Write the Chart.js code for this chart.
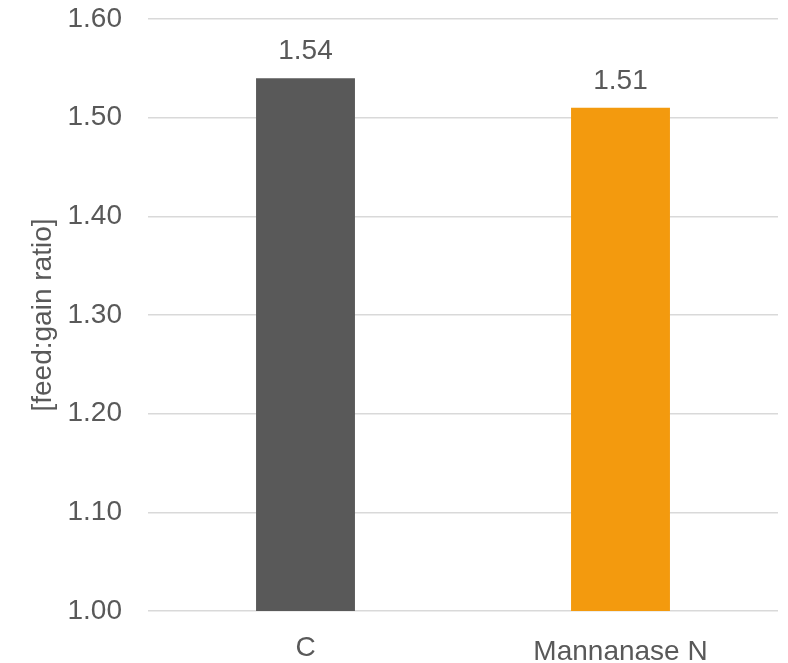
<!DOCTYPE html>
<html>
<head>
<meta charset="utf-8">
<script src="https://cdn.jsdelivr.net/npm/chart.js@4"></script>
<style>
  html, body { margin: 0; padding: 0; background: #fff; }
  #wrap { width: 788px; height: 663px; }
</style>
</head>
<body>
<div id="wrap"><canvas id="chart"></canvas></div>
<script>
const categories = ["C", "Mannanase N"];
const feedGain = [1.54, 1.51];
const barColors = ["#595959", "#f39a0e"];
const yTicks = [1.0, 1.1, 1.2, 1.3, 1.4, 1.5, 1.6];

const textColor = "#595959";
const fontFamily = "'Liberation Sans', Arial, sans-serif";

// draws the value above each bar (no datalabels plugin offline)
const valueLabels = {
  id: "valueLabels",
  afterDatasetsDraw(chart) {
    const ctx = chart.ctx;
    const meta = chart.getDatasetMeta(0);
    ctx.save();
    ctx.font = "28px " + fontFamily;
    ctx.fillStyle = textColor;
    ctx.textAlign = "center";
    ctx.textBaseline = "middle";
    meta.data.forEach((bar, i) => {
      ctx.fillText(feedGain[i].toFixed(2), bar.x, bar.y - 27);
    });
    ctx.restore();
  }
};

new Chart(document.getElementById("chart"), {
  type: "bar",
  data: {
    labels: categories,
    datasets: [{
      data: feedGain,
      backgroundColor: barColors,
      barPercentage: 0.314,
      categoryPercentage: 1.0
    }]
  },
  options: {
    responsive: true,
    maintainAspectRatio: false,
    animation: false,
    layout: { padding: { top: 19, right: 10, bottom: 0, left: 0 } },
    plugins: {
      legend: { display: false },
      tooltip: { enabled: false }
    },
    scales: {
      x: {
        grid: { display: false },
        border: { display: false },
        ticks: {
          color: textColor,
          padding: 12,
          // "C" sits a little higher than the other label in the original
          font: (ctx) => ({ family: fontFamily, size: 28, lineHeight: ctx.index === 0 ? 1.2 : 1.55 })
        },
        afterFit(scale) { scale.height = 52; }
      },
      y: {
        min: 1.0,
        max: 1.6,
        afterBuildTicks(scale) { scale.ticks = yTicks.map(v => ({ value: v })); },
        grid: { color: "#d9d9d9", lineWidth: 1.5, drawTicks: false },
        border: { display: false },
        ticks: {
          color: textColor,
          padding: 26,
          font: { family: fontFamily, size: 28 },
          callback: (v) => Number(v).toFixed(2)
        },
        title: {
          display: true,
          text: "[feed:gain ratio]",
          color: textColor,
          font: { family: fontFamily, size: 28 },
          padding: { top: 26, bottom: 0 }
        },
        afterFit(scale) {
          scale.width = 148;
          scale.paddingTop = 0;
          scale.paddingBottom = 0;
        }
      }
    }
  },
  plugins: [valueLabels]
});
</script>
</body>
</html>
